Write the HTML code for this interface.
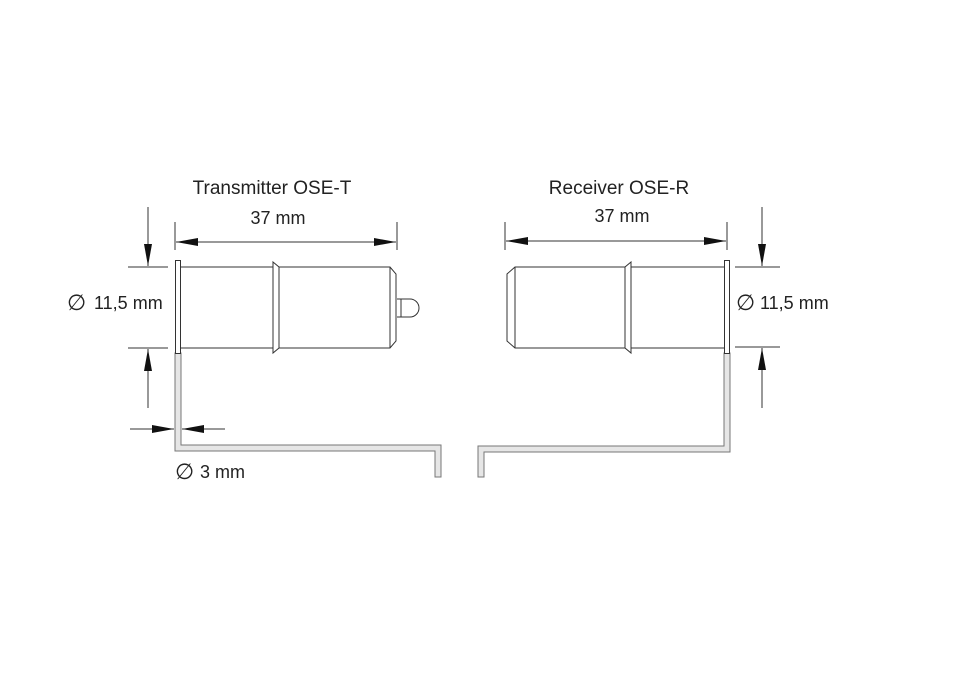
<!DOCTYPE html>
<html><head><style>
body{margin:0;background:#fff;}
svg text{font-family:"Liberation Sans",sans-serif;fill:#222;}
</style></head><body>
<svg width="960" height="673" viewBox="0 0 960 673" xmlns="http://www.w3.org/2000/svg">
<defs>
<marker id="a" markerWidth="22" markerHeight="10" refX="22" refY="5" orient="auto" markerUnits="userSpaceOnUse"><path d="M0,1 L22,5 L0,9 z" fill="#111"/></marker>
</defs>
<g stroke="#333" stroke-width="1" fill="none">
<!-- Transmitter -->
<path d="M175,353 V451 H435 V477 H441 V445 H181 V353 Z" fill="#e6e6e6" stroke="#777"/>
<rect x="175.5" y="260.5" width="5" height="93" fill="#fff"/>
<path d="M181,267 H390 L396,274 V341 L390,348 H181" fill="#fff"/>
<path d="M390,267 V348"/>
<path d="M273,262 L279,267 V348 L273,353 Z" fill="#fff"/>
<path d="M397,299 H410 A8,8 0 0 1 410,317 H397" fill="#fff"/>
<path d="M401,299 V317"/>
<!-- dims -->
<path d="M175,222 V250 M397,222 V250"/>
<path d="M286,242 H176" marker-end="url(#a)"/>
<path d="M286,242 H396" marker-end="url(#a)"/>
<path d="M128,267 H168 M128,348 H168"/>
<path d="M148,207 V266" marker-end="url(#a)"/>
<path d="M148,408 V349" marker-end="url(#a)"/>
<path d="M130,429 H174" marker-end="url(#a)"/>
<path d="M225,429 H182" marker-end="url(#a)"/>
<!-- Receiver -->
<path d="M724,353 V446 H478 V477 H484 V452 H730 V353 Z" fill="#e6e6e6" stroke="#777"/>
<rect x="724.5" y="260.5" width="5" height="93" fill="#fff"/>
<path d="M724,267 H515 L507,274 V341 L515,348 H724" fill="#fff"/>
<path d="M515,267 V348"/>
<path d="M631,262 L625,267 V348 L631,353 Z" fill="#fff"/>
<path d="M505,222 V250 M727,222 V250"/>
<path d="M616,241 H506" marker-end="url(#a)"/>
<path d="M616,241 H726" marker-end="url(#a)"/>
<path d="M735,267 H780 M735,347 H780"/>
<path d="M762,207 V266" marker-end="url(#a)"/>
<path d="M762,408 V348" marker-end="url(#a)"/>
</g>
<g font-size="19">
<text x="272" y="194" text-anchor="middle">Transmitter OSE-T</text>
<text x="619" y="194" text-anchor="middle">Receiver OSE-R</text>
</g>
<g font-size="18">
<text x="278" y="224" text-anchor="middle">37 mm</text>
<text x="622" y="222" text-anchor="middle">37 mm</text>
<text x="67" y="310" font-size="22" fill="#666">∅</text>
<text x="94" y="309">11,5 mm</text>
<text x="736" y="310" font-size="22" fill="#666">∅</text>
<text x="760" y="309">11,5 mm</text>
<text x="175" y="479" font-size="22" fill="#666">∅</text>
<text x="200" y="478">3 mm</text>
</g>
</svg>
</body></html>
